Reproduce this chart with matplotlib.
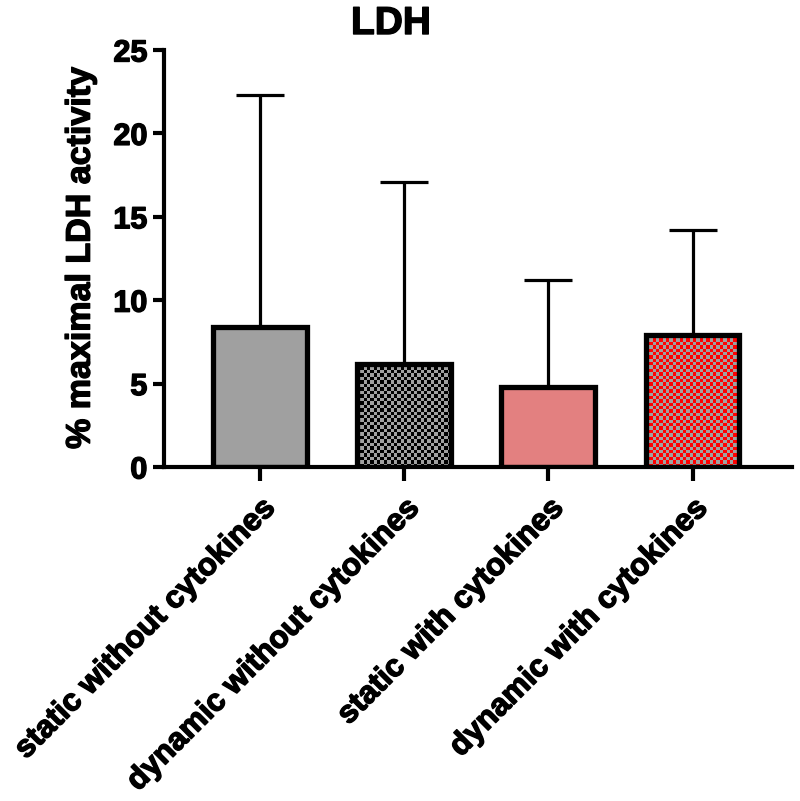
import numpy as np
import matplotlib
matplotlib.use('Agg')
import matplotlib.pyplot as plt
import matplotlib.patheffects as pe

plt.rcParams['font.family'] = ['Liberation Sans', 'DejaVu Sans']
plt.rcParams['font.weight'] = 'bold'

groups = ['static without cytokines', 'dynamic without cytokines',
          'static with cytokines', 'dynamic with cytokines']
means = [8.4, 6.2, 4.8, 7.9]
upper_err = [13.9, 10.9, 6.4, 6.3]
y_ticks = [0, 5, 10, 15, 20, 25]

# face colour, and second checker colour (None = plain fill)
faces = ['#a0a0a0', '#a0a0a0', '#e38080', '#a0a0a0']
checker = [None, '#000000', None, '#ff0000']

fig = plt.figure(figsize=(8, 8.01), dpi=100)
ax = fig.add_axes([0.205, 0.417, 0.785, 0.5206])

x = np.arange(len(groups))
width = 0.65

ax.errorbar(x, means, yerr=[[0] * len(means), upper_err], fmt='none',
            ecolor='black', elinewidth=2.3, capsize=17, capthick=2.3, zorder=1)
bars = ax.bar(x, means, width, color=faces, edgecolor='none', zorder=2)

# checkerboard fills, clipped to the bar rectangles
cell_px = 3.4
px_per_x = 0.785 * 800 / (3.69 + 0.665)
px_per_y = 0.5206 * 801 / 25
for rect, c2, fc in zip(bars, checker, faces):
    if c2 is None:
        continue
    bx, bw, bh = rect.get_x(), rect.get_width(), rect.get_height()
    nx = int(round(bw * px_per_x / cell_px))
    ny = int(round(bh * px_per_y / cell_px))
    board = (np.add.outer(np.arange(ny), np.arange(nx)) % 2).astype(float)
    cmap = matplotlib.colors.ListedColormap([fc, c2])
    im = ax.imshow(board, cmap=cmap, extent=(bx, bx + bw, 0, bh),
                   aspect='auto', interpolation='nearest', origin='lower', zorder=2.5)
    im.set_clip_path(rect)

ax.bar(x, means, width, facecolor='none', edgecolor='black', linewidth=3.8, zorder=3)
ax.set_xlim(-0.665, 3.69)
ax.set_ylim(0, 25)

for side in ['top', 'right']:
    ax.spines[side].set_visible(False)
for side in ['left', 'bottom']:
    ax.spines[side].set_linewidth(3)

heavy = [pe.withStroke(linewidth=1.0, foreground='black')]

ax.set_yticks(y_ticks)
ax.set_xticks(x)
ax.set_xticklabels(groups, rotation=45, ha='right', rotation_mode='anchor')
ax.tick_params(axis='y', labelsize=22, width=3, length=8, pad=4)
ax.tick_params(axis='x', labelsize=22.5, width=3, length=10, pad=9)
for lab in ax.get_xticklabels() + ax.get_yticklabels():
    lab.set_fontweight('bold')
    lab.set_path_effects(heavy)

yl = ax.set_ylabel('% maximal LDH activity', fontsize=24.5, fontweight='bold', labelpad=12)
yl.set_path_effects(heavy)
fig.text(391 / 800, 1 - 34 / 801, 'LDH', fontsize=28, fontweight='bold',
         ha='center', va='baseline', path_effects=heavy)

fig.savefig('out.png', dpi=100)
